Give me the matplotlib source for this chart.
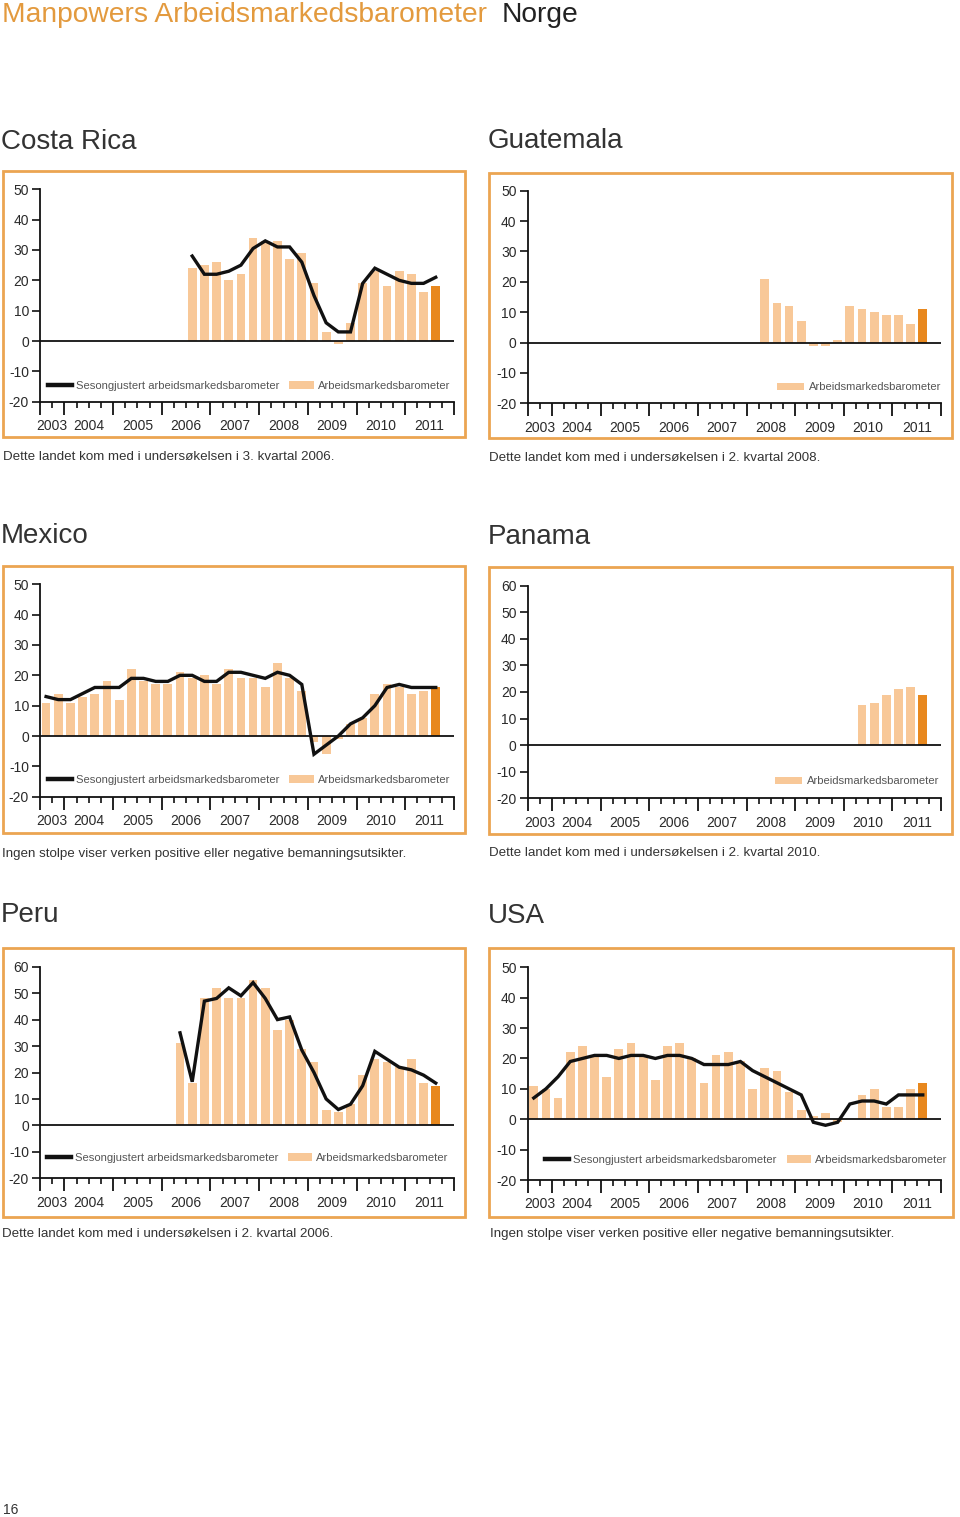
import matplotlib
matplotlib.use("Agg")
import matplotlib.pyplot as plt
import numpy as np
from matplotlib.lines import Line2D
from matplotlib.patches import Patch, Rectangle

plt.rcParams['font.family'] = ['Liberation Sans', 'DejaVu Sans']

# ---------------- data ----------------
years = ['2003', '2004', '2005', '2006', '2007', '2008', '2009', '2010', '2011']
# quarter index 0 = 3rd quarter 2003 ... 32 = 3rd quarter 2011 (forecast)

costa_rica_start = 12
costa_rica_bars = [24, 25, 26, 20, 22, 34, 33, 33, 27, 29, 19, 3, -1, 6, 19, 23, 18, 23, 22, 16, 18]
costa_rica_line = [28, 22, 22, 23, 25, 30.5, 33, 31, 31, 26, 15, 6, 3, 3, 19, 24, 22, 20, 19, 19, 21]

guatemala_start = 19
guatemala_bars = [21, 13, 12, 7, -1, -1, 1, 12, 11, 10, 9, 9, 6, 11]

mexico_start = 0
mexico_bars = [11, 14, 11, 13, 14, 18, 12, 22, 18, 17, 17, 21, 19, 20, 17, 22, 19, 19, 16, 24,
               19, 15, -2, -6, -1, 4, 6, 14, 17, 16, 14, 15, 16]
mexico_line = [13, 12, 12, 14, 16, 16, 16, 19, 19, 18, 18, 20, 20, 18, 18, 21, 21, 20, 19, 21,
               20, 17, -6, -3, 0, 4, 6, 10, 16, 17, 16, 16, 16]

panama_start = 27
panama_bars = [15, 16, 19, 21, 22, 19]

peru_start = 11
peru_bars = [31, 16, 48, 52, 48, 48, 55, 52, 36, 40, 29, 24, 6, 5, 8, 19, 25, 24, 22, 25, 16, 15]
peru_line = [35, 16.5, 47, 48, 52, 49, 54, 48, 40, 41, 28.5, 20, 10, 6, 8, 15, 28, 25, 22, 21, 19, 16]

usa_start = 0
usa_bars = [11, 10, 7, 22, 24, 21, 14, 23, 25, 21, 13, 24, 25, 20, 12, 21, 22, 19, 10, 17,
            16, 9, 3, 1, 2, -1, 0, 8, 10, 4, 4, 10, 12]
usa_line = [7, 10, 14, 19, 20, 21, 21, 20, 21, 21, 20, 21, 21, 20, 18, 18, 18, 19, 16, 14,
            12, 10, 8, -1, -2, -1, 5, 6, 6, 5, 8, 8, 8]

line_label = 'Sesongjustert arbeidsmarkedsbarometer'
bar_label = 'Arbeidsmarkedsbarometer'

# ---------------- style ----------------
W, H = 960, 1517
LIGHT = '#F8C898'
DARK = '#E8881E'
FRAME = '#EBA552'
TXT = '#2a2a2a'
ORANGE_T = '#E39A3E'

fig = plt.figure(figsize=(W / 100, H / 100), dpi=100)


def rect(x0, y0, x1, y1):
    return [x0 / W, 1 - y1 / H, (x1 - x0) / W, (y1 - y0) / H]


def frame(x0, y0, x1, y1):
    fig.patches.append(Rectangle((x0 / W, 1 - y1 / H), (x1 - x0) / W, (y1 - y0) / H,
                                 transform=fig.transFigure, fill=False,
                                 edgecolor=FRAME, lw=2.0))


def panel(title, tpos, fbox, abox, ytop, start, bars, line, caption, cpos, leg):
    frame(*fbox)
    fig.text(tpos[0] / W, 1 - tpos[1] / H, title, fontsize=20, color='#333333',
             ha='left', va='center')
    fig.text(cpos[0] / W, 1 - cpos[1] / H, caption, fontsize=9.6, color='#333333',
             ha='left', va='center')
    ax = fig.add_axes(rect(*abox))
    x = np.arange(start, start + len(bars))
    colors = [LIGHT] * (len(bars) - 1) + [DARK]
    ax.bar(x, bars, width=0.72, color=colors, zorder=2)
    ax.axhline(0, color='#111111', lw=1.3, zorder=3)
    if line is not None:
        xl = np.arange(start, start + len(line))
        ax.plot(xl, line, color='#111111', lw=2.4, zorder=4, solid_joinstyle='miter')
    ax.set_xlim(-0.5, 33.5)
    ax.set_ylim(-20, ytop)
    yt = np.arange(-20, ytop + 1, 10)
    ax.set_yticks(yt)
    ax.set_yticklabels([str(v) for v in yt])
    ax.tick_params(axis='y', direction='out', length=6, width=1.2, pad=2,
                   labelsize=10, labelcolor=TXT, color='#111111')
    maj = [-0.5] + [1.5 + 4 * k for k in range(9)]
    ax.set_xticks(maj)
    ax.set_xticklabels([])
    ax.set_xticks(np.arange(-0.5, 33.6, 1.0), minor=True)
    ax.tick_params(axis='x', which='major', direction='out', length=9.5, width=1.3,
                   color='#111111')
    ax.tick_params(axis='x', which='minor', direction='out', length=4.2, width=1.2,
                   color='#111111')
    for s in ['top', 'right']:
        ax.spines[s].set_visible(False)
    for s in ['left', 'bottom']:
        ax.spines[s].set_linewidth(1.3)
        ax.spines[s].set_color('#111111')
    sec = ax.secondary_xaxis('bottom')
    centers = [0.5] + [3.5 + 4 * k for k in range(8)]
    sec.set_xticks(centers)
    sec.set_xticklabels(years)
    sec.tick_params(length=0, pad=12.5, labelsize=10, labelcolor=TXT)
    sec.spines['bottom'].set_visible(False)
    ax.patch.set_alpha(0)

    # legend
    bar_h = Patch(facecolor=LIGHT, edgecolor='none', label=bar_label)
    if line is not None:
        line_h = Line2D([], [], color='#111111', lw=3.2, label=line_label)
        handles = [line_h, bar_h]
        lg = ax.legend(handles=handles, ncol=2, loc='center left',
                       bbox_to_anchor=(leg[0], leg[1]), frameon=False, fontsize=8.1,
                       handlelength=2.15, handletextpad=0.35, columnspacing=0.9,
                       borderpad=0, borderaxespad=0, handleheight=0.6)
    else:
        lg = ax.legend(handles=[bar_h], loc='center right',
                       bbox_to_anchor=(leg[0], leg[1]), frameon=False, fontsize=8.1,
                       handlelength=2.4, handletextpad=0.4,
                       borderpad=0, borderaxespad=0, handleheight=0.6)
    for t in lg.get_texts():
        t.set_color('#555555')
    return ax


# main title
fig.text(2 / W, 1 - 15 / H, 'Manpowers Arbeidsmarkedsbarometer', fontsize=20.3,
         color=ORANGE_T, ha='left', va='center')
fig.text(502 / W, 1 - 15 / H, 'Norge', fontsize=20.3, color='#222222', ha='left', va='center')

panel('Costa Rica', (1, 142), (3, 171, 465, 437), (40, 189.3, 454, 401.7), 50,
      costa_rica_start, costa_rica_bars, costa_rica_line,
      'Dette landet kom med i undersøkelsen i 3. kvartal 2006.', (3, 457), (0.019, 0.074))
panel('Guatemala', (488, 141), (489, 173, 952, 438), (527.7, 190.7, 941, 403.3), 50,
      guatemala_start, guatemala_bars, None,
      'Dette landet kom med i undersøkelsen i 2. kvartal 2008.', (489, 458), (1.0, 0.075))
panel('Mexico', (1, 536), (3, 566, 465, 833), (40, 584.3, 454, 796.7), 50,
      mexico_start, mexico_bars, mexico_line,
      'Ingen stolpe viser verken positive eller negative bemanningsutsikter.', (2, 854), (0.019, 0.079))
panel('Panama', (488, 537), (489, 567, 952, 834), (527.7, 585.7, 941, 798.3), 60,
      panama_start, panama_bars, None,
      'Dette landet kom med i undersøkelsen i 2. kvartal 2010.', (489, 853), (0.995, 0.081))
panel('Peru', (1, 915), (3, 948, 465, 1217), (40, 966.7, 454, 1178.3), 60,
      peru_start, peru_bars, peru_line,
      'Dette landet kom med i undersøkelsen i 2. kvartal 2006.', (2, 1234), (0.016, 0.096))
panel('USA', (488, 916), (489, 948, 953, 1217), (527.7, 967.3, 941, 1180), 50,
      usa_start, usa_bars, usa_line,
      'Ingen stolpe viser verken positive eller negative bemanningsutsikter.', (490, 1234), (0.042, 0.094))

fig.text(3 / W, 1 - 1510 / H, '16', fontsize=10, color='#333333', ha='left', va='center')

fig.savefig('out.png', dpi=100)
